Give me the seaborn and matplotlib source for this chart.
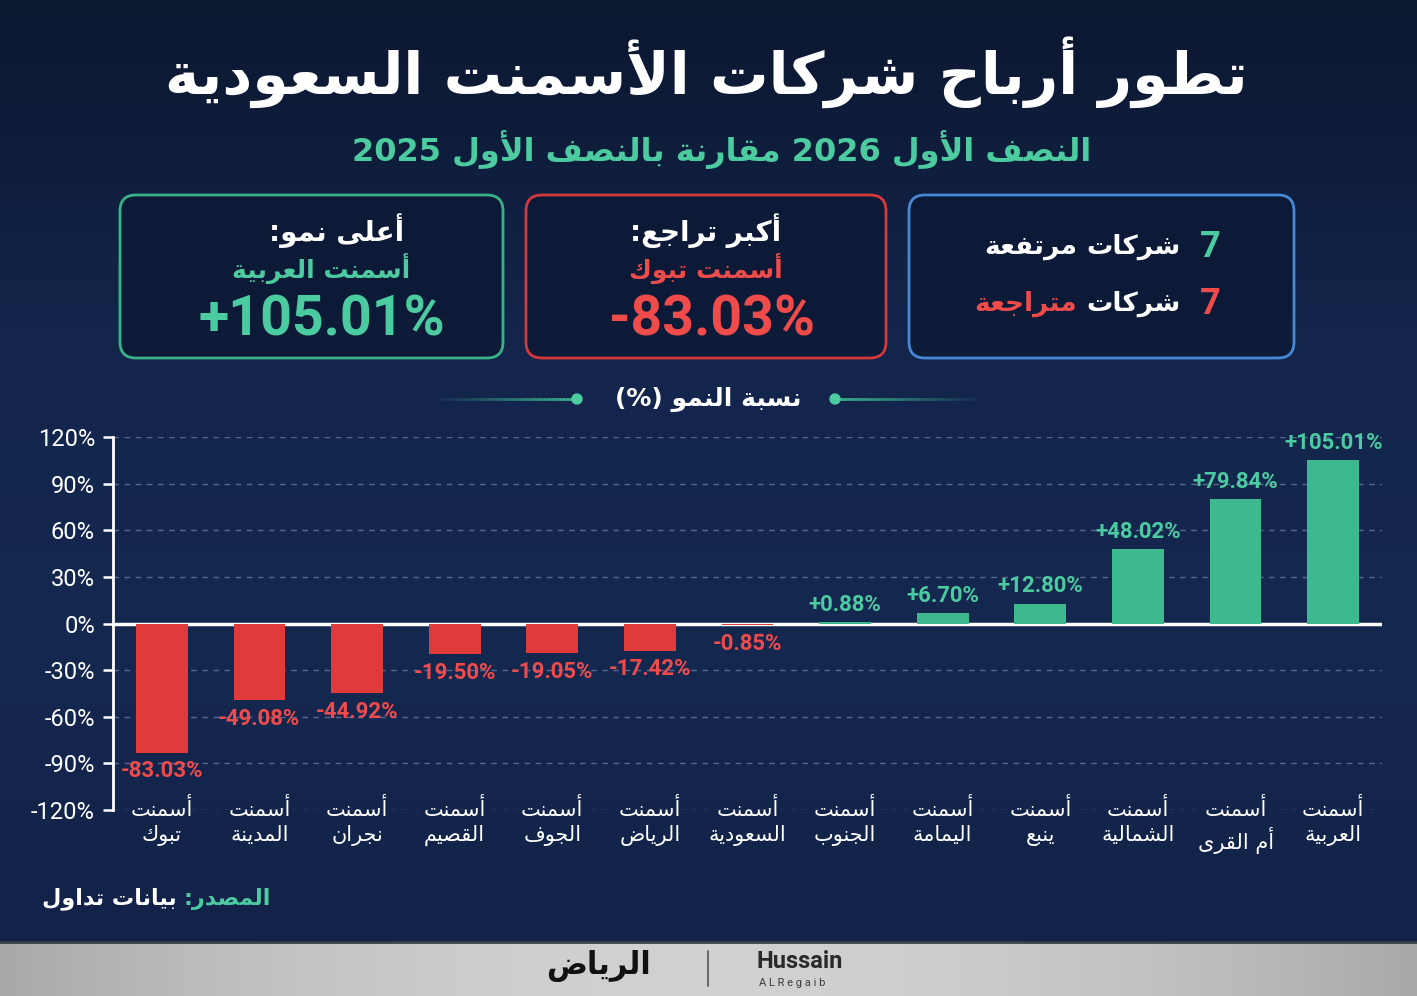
import re
import numpy as np
import pandas as pd
import matplotlib
matplotlib.use('Agg')
import matplotlib.pyplot as plt
import seaborn as sns
from matplotlib.patches import FancyBboxPatch, Circle
from matplotlib.collections import LineCollection
from matplotlib.colors import to_rgb

# ---- data ----
companies = ['تبوك', 'المدينة', 'نجران', 'القصيم', 'الجوف', 'الرياض', 'السعودية',
             'الجنوب', 'اليمامة', 'ينبع', 'الشمالية', 'أم القرى', 'العربية']
growth = [-83.03, -49.08, -44.92, -19.50, -19.05, -17.42, -0.85,
          0.88, 6.70, 12.80, 48.02, 79.84, 105.01]
y_ticks = [-120, -90, -60, -30, 0, 30, 60, 90, 120]

title = 'تطور أرباح شركات الأسمنت السعودية'
subtitle = 'النصف الأول 2026 مقارنة بالنصف الأول 2025'
chart_title = 'نسبة النمو (%)'
rising_count = '7'
falling_count = '7'
top_label = 'أعلى نمو:'
top_name = 'أسمنت العربية'
top_value = '+105.01%'
worst_label = 'أكبر تراجع:'
worst_name = 'أسمنت تبوك'
worst_value = '-83.03%'

RED = '#e03a3a'
RED_TXT = '#f04b4b'
GREEN = '#3db98e'
GREEN_TXT = '#4ccaa0'
BLUE = '#4a8fe0'

# ---- simple arabic shaping (matplotlib has no bidi / joining) ----
_base = {
    'آ': (0xFE81, 0), 'أ': (0xFE83, 0), 'ؤ': (0xFE85, 0), 'إ': (0xFE87, 0),
    'ئ': (0xFE89, 1), 'ا': (0xFE8D, 0), 'ب': (0xFE8F, 1), 'ة': (0xFE93, 0),
    'ت': (0xFE95, 1), 'ث': (0xFE99, 1), 'ج': (0xFE9D, 1), 'ح': (0xFEA1, 1),
    'خ': (0xFEA5, 1), 'د': (0xFEA9, 0), 'ذ': (0xFEAB, 0), 'ر': (0xFEAD, 0),
    'ز': (0xFEAF, 0), 'س': (0xFEB1, 1), 'ش': (0xFEB5, 1), 'ص': (0xFEB9, 1),
    'ض': (0xFEBD, 1), 'ط': (0xFEC1, 1), 'ظ': (0xFEC5, 1), 'ع': (0xFEC9, 1),
    'غ': (0xFECD, 1), 'ف': (0xFED1, 1), 'ق': (0xFED5, 1), 'ك': (0xFED9, 1),
    'ل': (0xFEDD, 1), 'م': (0xFEE1, 1), 'ن': (0xFEE5, 1), 'ه': (0xFEE9, 1),
    'و': (0xFEED, 0), 'ى': (0xFEEF, 0), 'ي': (0xFEF1, 1),
}
_lamalef = {'آ': 0xFEF5, 'أ': 0xFEF7, 'إ': 0xFEF9, 'ا': 0xFEFB}


def ar(text):
    units = []
    i = 0
    while i < len(text):
        c = text[i]
        if c == 'ل' and i + 1 < len(text) and text[i + 1] in _lamalef:
            units.append(('LA', text[i + 1]))
            i += 2
        else:
            units.append(('C', c))
            i += 1
    out = []
    for k, (kind, c) in enumerate(units):
        prev = k > 0 and units[k - 1][0] == 'C' and units[k - 1][1] in _base \
            and _base[units[k - 1][1]][1] == 1
        nxt = k + 1 < len(units) and (units[k + 1][0] == 'LA' or units[k + 1][1] in _base)
        if kind == 'LA':
            out.append(chr(_lamalef[c] + (1 if prev else 0)))
        elif c in _base:
            code, dual = _base[c]
            if dual:
                off = 3 if (prev and nxt) else 1 if prev else 2 if nxt else 0
            else:
                off = 1 if prev else 0
            out.append(chr(code + off))
        else:
            out.append(c)
    s = ''.join(out)[::-1]
    s = s.translate(str.maketrans('()', ')('))
    return re.sub(r'[0-9A-Za-z.%+\-]+', lambda m: m.group(0)[::-1], s)


sns.set_theme(style='white')
plt.rcParams['font.family'] = ['DejaVu Sans']
NUM_FONT = ['Roboto', 'DejaVu Sans']

fig = plt.figure(figsize=(14.17, 9.96), dpi=100)

# ---- background layer in pixel coordinates ----
bg = fig.add_axes([0, 0, 1, 1])
bg.set_xlim(0, 1417)
bg.set_ylim(996, 0)
bg.axis('off')

stops = np.array([to_rgb('#0c1730'), to_rgb('#13254b'), to_rgb('#152850'), to_rgb('#122248')])
t = np.linspace(0, 1, 300)
grad = np.stack([np.interp(t, [0, 0.35, 0.7, 1], stops[:, j]) for j in range(3)], axis=-1)
bg.imshow(grad[:, None, :], extent=[0, 1417, 942, 0], aspect='auto', zorder=0)

# silver footer
xs = np.linspace(-1, 1, 400)
silver = 0.66 + 0.16 * (1 - xs ** 2)
foot = np.stack([silver, silver, silver * 1.01], axis=-1).clip(0, 1)
bg.imshow(foot[None, :, :], extent=[0, 1417, 996, 942], aspect='auto', zorder=0)
bg.plot([0, 1417], [942, 942], color='#3a3f4a', lw=2, zorder=1)

# title block
bg.text(706, 72, ar(title), ha='center', va='center', fontsize=42,
        fontweight='bold', color='white', zorder=3)
bg.text(722, 150, ar(subtitle), ha='center', va='center', fontsize=23,
        fontweight='bold', color=GREEN_TXT, zorder=3)

# cards
for x0, w, edge in [(120, 383, GREEN), (526, 360, RED), (909, 385, BLUE)]:
    bg.add_patch(FancyBboxPatch((x0, 195), w, 163, boxstyle='round,pad=0,rounding_size=16',
                                facecolor='#0d1a37', edgecolor=edge, lw=2, alpha=0.95, zorder=2))

bg.text(337, 231, ar(top_label), ha='center', va='center', fontsize=20,
        fontweight='bold', color='white', zorder=3)
bg.text(321, 268, ar(top_name), ha='center', va='center', fontsize=18,
        fontweight='bold', color=GREEN_TXT, zorder=3)
bg.text(322, 320, top_value, ha='center', va='center', fontsize=40,
        fontweight='bold', color=GREEN_TXT, family=NUM_FONT, zorder=3)

bg.text(706, 231, ar(worst_label), ha='center', va='center', fontsize=20,
        fontweight='bold', color='white', zorder=3)
bg.text(706, 268, ar(worst_name), ha='center', va='center', fontsize=18,
        fontweight='bold', color=RED_TXT, zorder=3)
bg.text(712, 320, worst_value, ha='center', va='center', fontsize=40,
        fontweight='bold', color=RED_TXT, family=NUM_FONT, zorder=3)

for yy, num, word, num_col, word_col in [(247, rising_count, 'مرتفعة', GREEN_TXT, 'white'),
                                          (304, falling_count, 'متراجعة', RED_TXT, RED_TXT)]:
    t_num = bg.text(1221, yy, num, ha='right', va='center', fontsize=26,
                    fontweight='bold', color=num_col, family=NUM_FONT, zorder=3)
    t_co = bg.annotate(ar('شركات'), xy=(0, 0.5), xycoords=t_num, xytext=(-14, 0),
                       textcoords='offset points', ha='right', va='center',
                       fontsize=19, fontweight='bold', color='white', zorder=3)
    bg.annotate(ar(word), xy=(0, 0.5), xycoords=t_co, xytext=(-7, 0),
                textcoords='offset points', ha='right', va='center',
                fontsize=19, fontweight='bold', color=word_col, zorder=3)

# chart heading with fading lines
bg.text(708, 399, ar(chart_title), ha='center', va='center', fontsize=18,
        fontweight='bold', color='white', zorder=3)
for start, end in [(577, 430), (835, 985)]:
    px = np.linspace(start, end, 40)
    segs = [[(px[k], 399), (px[k + 1], 399)] for k in range(len(px) - 1)]
    alphas = np.linspace(1, 0, len(segs))
    cols = [(*to_rgb(GREEN), a) for a in alphas]
    bg.add_collection(LineCollection(segs, colors=cols, linewidths=2, zorder=3))
    bg.add_patch(Circle((start, 399), 5, color=GREEN_TXT, zorder=4))

# source + footer
t_src = bg.text(42, 899, ar('بيانات تداول'), ha='left', va='center', fontsize=16,
                fontweight='bold', color='white', zorder=3)
bg.annotate(ar('المصدر:'), xy=(1, 0.5), xycoords=t_src, xytext=(5, 0),
            textcoords='offset points', ha='left', va='center', fontsize=16,
            fontweight='bold', color=GREEN_TXT, zorder=3)

bg.text(598, 966, ar('الرياض'), ha='center', va='center', fontsize=22,
        fontweight='bold', color='#111111', zorder=3)
bg.plot([708, 708], [951, 986], color='#555555', lw=1.2, zorder=3)
bg.text(757, 961, 'Hussain', ha='left', va='center', fontsize=17, fontweight='bold',
        color='#2a2a2a', family=NUM_FONT, zorder=3)
bg.text(759, 983, 'A L R e g a i b', ha='left', va='center', fontsize=8,
        color='#3a3a3a', family=NUM_FONT, zorder=3)

# ---- bar chart ----
df = pd.DataFrame({'company': companies, 'growth': growth})
df['trend'] = np.where(df['growth'] < 0, 'down', 'up')

ax = fig.add_axes([113 / 1417, (996 - 810) / 996, 1269 / 1417, 373 / 996])
ax.set_facecolor('none')
sns.barplot(data=df, x='company', y='growth', hue='trend', order=companies,
            palette={'down': RED, 'up': GREEN}, dodge=False, width=0.53,
            saturation=1, legend=False, linewidth=0, ax=ax, zorder=5)

ax.set_xlim(-0.5, len(companies) - 0.5)
ax.set_ylim(-120, 120)
ax.set_yticks(y_ticks)
ax.set_yticklabels([f'{v}%' for v in y_ticks], fontsize=17, color='white', family=NUM_FONT)
ax.set_xticks(range(len(companies)))
ax.set_xticklabels([ar('أسمنت') + '\n' + ar(c) for c in companies], fontsize=15,
                   color='white', linespacing=1.35)
ax.tick_params(axis='x', length=0, pad=-9)
ax.tick_params(axis='y', length=7, width=1.8, color='white', pad=6, left=True)
ax.set_xlabel('')
ax.set_ylabel('')

for v in y_ticks:
    if v != 0:
        ax.axhline(v, color='#6a7a9e', lw=1, ls=(0, (4, 4)), alpha=0.8, zorder=1)
ax.axhline(0, color='white', lw=2.5, zorder=4)
for side in ['top', 'right', 'bottom']:
    ax.spines[side].set_visible(False)
ax.spines['left'].set_color('white')
ax.spines['left'].set_linewidth(2)

for i, v in enumerate(growth):
    col = GREEN_TXT if v > 0 else RED_TXT
    ax.text(i, v + (4 if v > 0 else -5), f'{v:+.2f}%', ha='center',
            va='bottom' if v > 0 else 'top', color=col, fontsize=16,
            fontweight='bold', family=NUM_FONT, zorder=6)

fig.savefig('out.png', dpi=100, facecolor='#0b152e')
